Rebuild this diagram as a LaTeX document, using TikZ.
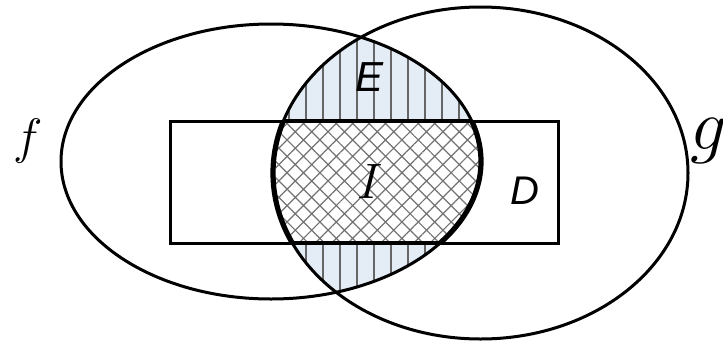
\documentclass[tikz,border=0pt]{standalone}
\usepackage{fontspec}
\usetikzlibrary{patterns.meta}
\newfontfamily\arialfont{Liberation Sans}
\definecolor{azulclaro}{HTML}{E4ECF6}

\begin{document}
\begin{tikzpicture}[x=0.5pt, y=0.5pt,
    borde/.style={line width=1.5pt},
    bordegrueso/.style={line width=2.6pt},
    rayas/.style={fill=azulclaro, pattern={Lines[angle=90, distance=8.5pt, line width=0.9pt]}, pattern color=black!60},
    malla/.style={pattern={Hatch[angle=45, distance=5.8pt, line width=0.6pt]}, pattern color=black!55}]
    \useasboundingbox (0,0) rectangle (723,345);

    % Region comun de f y g (E, rayada)
    \begin{scope}
        \clip (271,183.5) ellipse [x radius=210, y radius=137.5];
        \clip (480.5,172) ellipse [x radius=207.5, y radius=166];
        \fill[azulclaro] (0,0) rectangle (723,345);
        \fill[rayas] (0,0) rectangle (723,345);
        % Interseccion I dentro del dominio D
        \fill[white] (170,102) rectangle (558,224);
        \fill[malla] (170,102) rectangle (558,224);
    \end{scope}

    % Conjuntos f y g
    \draw[borde] (271,183.5) ellipse [x radius=210, y radius=137.5];
    \draw[borde] (480.5,172) ellipse [x radius=207.5, y radius=166];

    % Dominio D
    \draw[borde] (170,102) rectangle (558,224);

    % Contorno grueso de I
    \begin{scope}
        \clip (170,102) rectangle (558,224);
        \clip (271,183.5) ellipse [x radius=210, y radius=137.5];
        \draw[bordegrueso] (480.5,172) ellipse [x radius=207.5, y radius=166];
    \end{scope}
    \begin{scope}
        \clip (170,102) rectangle (558,224);
        \clip (480.5,172) ellipse [x radius=207.5, y radius=166];
        \draw[bordegrueso] (271,183.5) ellipse [x radius=210, y radius=137.5];
    \end{scope}
    \begin{scope}
        \clip (271,183.5) ellipse [x radius=210, y radius=137.5];
        \clip (480.5,172) ellipse [x radius=207.5, y radius=166];
        \draw[line width=2pt] (170,102) rectangle (558,224);
    \end{scope}

    % Etiquetas
    \node (f) at (28,204) {\Huge $f$};
    \node[scale=1.45] (g) at (709,204) {\Huge $g$};
    \node (E) at (370,268) {\fontsize{21}{25}\selectfont\arialfont\itshape E};
    \node (I) at (370,164) {\Huge $I$};
    \node (D) at (525,154) {\fontsize{20}{24}\selectfont\arialfont\itshape D};
\end{tikzpicture}
\end{document}
